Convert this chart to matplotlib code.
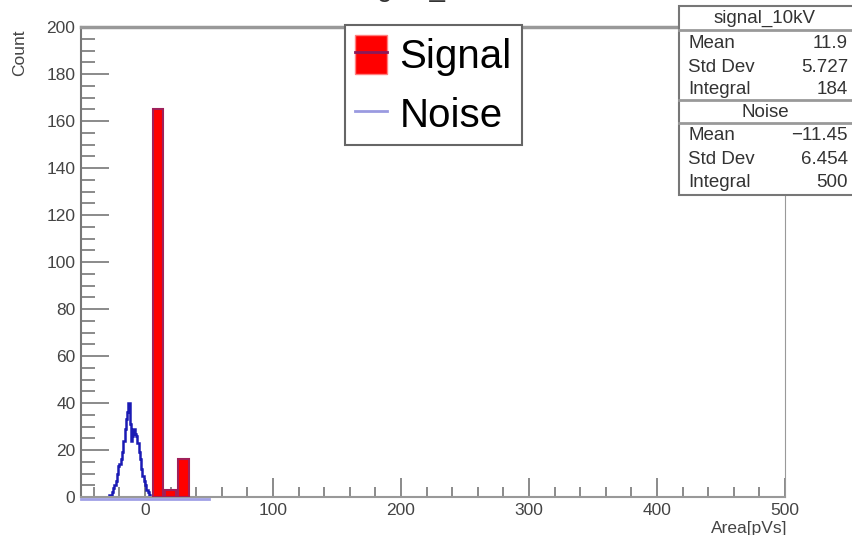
import matplotlib
matplotlib.use("Agg")
import matplotlib.pyplot as plt
import matplotlib.transforms as mtransforms
import numpy as np
from matplotlib.patches import Patch, Rectangle
from matplotlib.lines import Line2D
from matplotlib.ticker import MultipleLocator

plt.rcParams['font.family'] = ['Liberation Sans', 'DejaVu Sans']

# signal histogram (bin centres and counts)
signal_centers = [10, 20, 30]
signal_counts = [165, 3, 16]

# noise histogram, 1 unit bins from -50 to 50, non-zero part starts at -30
noise_range = (-50, 50)
noise_start = -30
noise_counts = [0, 0, 1, 1, 2, 4, 5, 7, 10, 13,
                14, 16, 19, 24, 29, 33, 36, 40, 31, 24,
                26, 29, 27, 26, 23, 19, 16, 12, 9, 7,
                5, 3, 2, 1, 0]

# stats box
stat_names = ['Mean', 'Std Dev', 'Integral']
signal_stats = ['11.9', '5.727', '184']
noise_stats = ['\u221211.45', '6.454', '500']

fig = plt.figure(figsize=(8.52, 5.35), dpi=100)
W, H = 852, 535
ax = fig.add_axes([81 / W, 1 - 497 / H, 704 / W, 470 / H])

edges = np.arange(noise_range[0], noise_range[1] + 1, 1)
full_noise = np.zeros(len(edges) - 1)
i0 = noise_start - noise_range[0]
full_noise[i0:i0 + len(noise_counts)] = noise_counts
ax.stairs(full_noise, edges, color='#1a1ab4', lw=1.8, zorder=2)
# zero level of the noise histogram, just under the axis line
shift = mtransforms.ScaledTranslation(0, -1.5 / 100, fig.dpi_scale_trans)
ax.plot([noise_range[0], noise_range[1]], [0, 0], color='#a0a0e6', lw=2,
        clip_on=False, zorder=1, transform=ax.transData + shift)

ax.bar(signal_centers, signal_counts, width=8, color='#ff0000',
       edgecolor='#a0205a', linewidth=1.5, zorder=3)

ax.set_xlim(-50, 500)
ax.set_ylim(0, 200)
ax.xaxis.set_major_locator(MultipleLocator(100))
ax.xaxis.set_minor_locator(MultipleLocator(20))
ax.yaxis.set_major_locator(MultipleLocator(20))
ax.yaxis.set_minor_locator(MultipleLocator(5))
ax.tick_params(which='both', direction='in', colors='#777777',
               labelcolor='#444444', labelsize=12.5)
ax.tick_params(axis='y', which='major', length=20, width=1.2, pad=4)
ax.tick_params(axis='y', which='minor', length=10, width=1.2)
ax.tick_params(axis='x', which='major', length=14, width=1.2, pad=4)
ax.tick_params(axis='x', which='minor', length=7, width=1.2)
for s in ['left', 'bottom', 'right', 'top']:
    ax.spines[s].set_color('#999999')
ax.spines['left'].set_color('#777777')
ax.spines['top'].set_linewidth(2.5)
ax.spines['left'].set_linewidth(1.5)
ax.spines['bottom'].set_linewidth(1.5)

ax.set_xlabel('Area[pVs]', loc='right', fontsize=12.5, color='#444444')
ax.xaxis.set_label_coords(1.003, -0.051)
ax.set_ylabel('Count', loc='top', fontsize=12.5, color='#444444')
ax.yaxis.set_label_coords(-0.076, 0.994)

# legend
sig_handle = (Patch(facecolor='#ff0000', edgecolor='#ff8080'),
              Line2D([], [], color='#8a1a5a', lw=2))
noise_handle = Line2D([], [], color='#9a9ae0', lw=2)
leg = ax.legend([sig_handle, noise_handle], ['Signal', 'Noise'],
                loc='upper left', bbox_to_anchor=(345 / W, 1 - 25 / H),
                bbox_transform=fig.transFigure, borderaxespad=0,
                fontsize=29, fancybox=False, edgecolor='#666666',
                framealpha=1, handlelength=0.8, handleheight=1.1,
                handletextpad=0.3, borderpad=0.25, labelspacing=0.45)
leg.get_frame().set_linewidth(1.5)
leg.set_zorder(5)

# title (mostly cut off by the top edge)
fig.text(433 / W, 1 + 4 / H, 'signal_10kV', ha='center', va='baseline',
         fontsize=20, color='#333333')

# stats box
def fy(y):
    return 1 - y / H

box = Rectangle((679 / W, fy(195)), 200 / W, 189 / H, transform=fig.transFigure,
                facecolor='white', edgecolor='#777777', lw=1.5, zorder=10)
fig.patches.append(box)
for y in [30, 100, 123]:
    fig.add_artist(Line2D([679 / W, 1], [fy(y), fy(y)], color='#999999', lw=2,
                          transform=fig.transFigure, zorder=11))
fs = 13.5
fig.text(765 / W, fy(18), 'signal_10kV', ha='center', va='center',
         fontsize=fs, color='#333333', zorder=12)
fig.text(765 / W, fy(112), 'Noise', ha='center', va='center',
         fontsize=fs, color='#333333', zorder=12)
for k, name in enumerate(stat_names):
    for y0, vals in [(44, signal_stats), (136, noise_stats)]:
        y = y0 + k * 23
        fig.text(688 / W, fy(y), name, ha='left', va='center',
                 fontsize=fs, color='#333333', zorder=12)
        fig.text(848 / W, fy(y), vals[k], ha='right', va='center',
                 fontsize=fs, color='#333333', zorder=12)

fig.savefig('out.png', dpi=100)
